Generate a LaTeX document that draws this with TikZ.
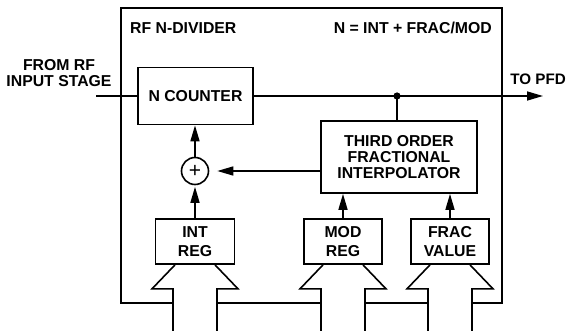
\documentclass[tikz,border=0pt]{standalone}
\usepackage{fontspec}
\setmainfont{Liberation Sans}
\usetikzlibrary{arrows.meta,calc}
\begin{document}
\begin{tikzpicture}[x=1pt,y=-1pt,
  txt/.style={font=\fontsize{15.8}{16}\selectfont\bfseries, inner sep=0pt, align=center},
  blk/.style={txt, draw, line width=1.7pt, fill=white},
  regtxt/.style={font=\fontsize{15.8}{19}\selectfont\bfseries},
  wire/.style={line width=1.6pt},
  arr/.style={wire, -{Triangle[length=16pt,width=9pt]}},
  frame/.style={line width=2.5pt},
  bus/.style={line width=1.6pt, line join=miter}]
\useasboundingbox (0,0) rectangle (567,331);

% frame
\draw[frame] (173,303) -- (121,303) -- (121,8) -- (502,8) -- (502,303) -- (472,303);
\draw[frame] (217,303) -- (321,303);
\draw[frame] (365,303) -- (428,303);

\node[txt, anchor=west] (title) at (130,28) {RF N-DIVIDER};
\node[txt, anchor=east] (eq) at (492,28) {N = INT + FRAC/MOD};

% blocks
\node[blk, minimum width=115, minimum height=57] (ncnt) at (195.5,96) {N COUNTER};
\node[blk, minimum width=156, minimum height=72] (interp) at (399,157) {THIRD ORDER\\FRACTIONAL\\INTERPOLATOR};
\node[blk, regtxt, minimum width=79, minimum height=45] (intreg) at (195,241.5) {INT\\REG};
\node[blk, regtxt, minimum width=78, minimum height=45] (modreg) at (343,241.5) {MOD\\REG};
\node[blk, regtxt, minimum width=78, minimum height=45] (fracval) at (450,241.5) {FRAC\\VALUE};
\node[draw, circle, line width=1.6pt, minimum size=27, inner sep=0pt, font=\fontsize{21}{21}\selectfont] (sum) at (195,171) {+};

% external labels
\node[txt] (from) at (59,73) {FROM RF\\INPUT STAGE};
\node[txt, anchor=east, font=\fontsize{15.2}{16}\selectfont\bfseries] (topfd) at (566,79) {TO PFD};

\coordinate (in) at (96,96);
\coordinate (out) at (543,96);
\coordinate (dot) at (397,96);

% connectors
\draw[wire] (in) -- (ncnt.west);
\draw[arr] (ncnt.east) -- (out);
\fill (dot) circle (3.6);
\draw[wire] (dot) -- (dot |- interp.north);
\draw[arr, shorten >=8pt] (sum -| interp.west) -- (sum.east);
\draw[arr] (sum.north) -- (sum.north |- ncnt.south);
\draw[arr, shorten >=1.5pt] (intreg.north) -- (sum.south);
\draw[arr] (modreg.north) -- (modreg.north |- interp.south);
\draw[arr] (fracval.north) -- (fracval.north |- interp.south);

% buses
\foreach \n in {intreg,modreg,fracval}{
  \draw[bus] ($(\n.south)+(-22,71)$) -- ++(0,-47) -- ++(-21,0) -- ($(\n.south)+(-20,0)$);
  \draw[bus] ($(\n.south)+(22,71)$) -- ++(0,-47) -- ++(21,0) -- ($(\n.south)+(20,0)$);
}
\end{tikzpicture}
\end{document}
